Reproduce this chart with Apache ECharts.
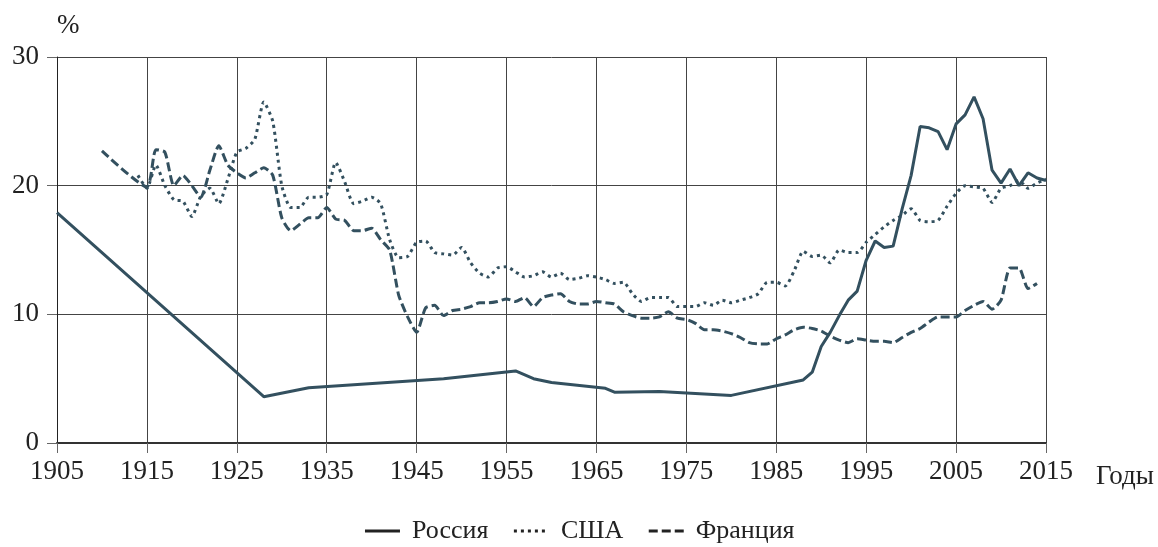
<!DOCTYPE html>
<html>
<head>
<meta charset="utf-8">
<script src="https://cdn.jsdelivr.net/npm/echarts@6/dist/echarts.min.js"></script>
<style>
  html, body { margin: 0; padding: 0; background: #fff; }
  #chart { width: 1158px; height: 547px; }
</style>
</head>
<body>
<div id="chart"></div>
<script>
// tick labels
const yearTicks = ['1905', '1915', '1925', '1935', '1945', '1955', '1965', '1975', '1985', '1995', '2005', '2015']
const seriesNames = ['Россия', 'США', 'Франция']

// Россия
const russiaYears = [1905, 1928, 1933, 1948, 1956, 1958, 1960, 1966, 1967, 1972, 1980, 1988, 1989, 1990, 1991, 1992,
  1993, 1994, 1995, 1996, 1997, 1998, 1999, 2000, 2001, 2002, 2003, 2004, 2005, 2006, 2007, 2008, 2009, 2010,
  2011, 2012, 2013, 2014, 2015]
const russiaValues = [17.9, 3.6, 4.3, 5.0, 5.6, 5.0, 4.7, 4.25, 3.95, 4.0, 3.7, 4.9, 5.5, 7.5, 8.6, 9.9,
  11.1, 11.8, 14.2, 15.7, 15.2, 15.3, 18.2, 20.8, 24.6, 24.5, 24.2, 22.8, 24.8, 25.5, 26.9, 25.2, 21.2, 20.2,
  21.3, 20.0, 21.0, 20.6, 20.4]

// США
const usaYears = [1914, 1915, 1916, 1917, 1918, 1919, 1920, 1921, 1922, 1923, 1924, 1925, 1926, 1927, 1928, 1929,
  1930, 1931, 1932, 1933, 1934, 1935, 1936, 1937, 1938, 1939, 1940, 1941, 1942, 1943, 1944, 1945, 1946, 1947,
  1948, 1949, 1950, 1951, 1952, 1953, 1954, 1955, 1956, 1957, 1958, 1959, 1960, 1961, 1962, 1963, 1964, 1965,
  1966, 1967, 1968, 1969, 1970, 1971, 1972, 1973, 1974, 1975, 1976, 1977, 1978, 1979, 1980, 1981, 1982, 1983,
  1984, 1985, 1986, 1987, 1988, 1989, 1990, 1991, 1992, 1993, 1994, 1995, 1996, 1997, 1998, 1999, 2000, 2001,
  2002, 2003, 2004, 2005, 2006, 2007, 2008, 2009, 2010, 2011, 2012, 2013, 2014, 2015]
const usaValues = [20.8, 19.8, 21.6, 20.0, 18.9, 18.8, 17.6, 19.2, 19.8, 18.6, 20.5, 22.6, 22.9, 23.6, 26.5, 25.0,
  20.0, 18.3, 18.3, 19.1, 19.1, 19.3, 21.8, 20.3, 18.6, 18.8, 19.1, 18.6, 15.8, 14.4, 14.5, 15.6, 15.7, 14.8,
  14.7, 14.6, 15.2, 14.0, 13.2, 12.9, 13.6, 13.7, 13.3, 12.9, 13.0, 13.3, 12.9, 13.2, 12.7, 12.8, 13.0, 12.9,
  12.7, 12.4, 12.5, 11.6, 11.0, 11.3, 11.3, 11.3, 10.6, 10.6, 10.6, 10.9, 10.7, 11.1, 10.9, 11.1, 11.3, 11.6,
  12.5, 12.5, 12.2, 13.4, 14.9, 14.5, 14.6, 14.0, 15.0, 14.8, 14.8, 15.6, 16.2, 16.8, 17.3, 17.7, 18.2, 17.3,
  17.2, 17.3, 18.4, 19.4, 20.0, 19.9, 19.8, 18.7, 19.8, 20.0, 20.4, 19.8, 20.2, 20.5]

// Франция
const franceYears = [1910, 1915, 1916, 1917, 1918, 1919, 1920, 1921, 1922, 1923, 1924, 1925, 1926, 1927, 1928, 1929,
  1930, 1931, 1932, 1933, 1934, 1935, 1936, 1937, 1938, 1939, 1940, 1941, 1942, 1943, 1944, 1945, 1946, 1947,
  1948, 1949, 1950, 1951, 1952, 1953, 1954, 1955, 1956, 1957, 1958, 1959, 1960, 1961, 1962, 1963, 1964, 1965,
  1966, 1967, 1968, 1969, 1970, 1971, 1972, 1973, 1974, 1975, 1976, 1977, 1978, 1979, 1980, 1981, 1982, 1983,
  1984, 1985, 1986, 1987, 1988, 1989, 1990, 1991, 1992, 1993, 1994, 1995, 1996, 1997, 1998, 1999, 2000, 2001,
  2002, 2003, 2004, 2005, 2006, 2007, 2008, 2009, 2010, 2011, 2012, 2013, 2014]
const franceValues = [22.7, 19.9, 22.8, 22.6, 20.0, 20.8, 20.0, 19.1, 21.2, 23.1, 21.6, 21.0, 20.6, 21.0, 21.4, 20.8,
  17.5, 16.5, 17.0, 17.5, 17.5, 18.3, 17.4, 17.3, 16.5, 16.5, 16.7, 15.8, 15.0, 11.5, 9.8, 8.6, 10.5, 10.7,
  9.9, 10.3, 10.4, 10.6, 10.9, 10.9, 11.0, 11.2, 11.0, 11.3, 10.6, 11.3, 11.5, 11.6, 11.0, 10.8, 10.8, 11.0,
  10.9, 10.8, 10.2, 9.9, 9.7, 9.7, 9.8, 10.2, 9.7, 9.6, 9.3, 8.8, 8.8, 8.7, 8.5, 8.2, 7.8, 7.7,
  7.7, 8.1, 8.4, 8.8, 9.0, 8.9, 8.7, 8.3, 8.0, 7.8, 8.1, 8.0, 7.9, 7.9, 7.8, 8.2, 8.6, 8.9,
  9.4, 9.8, 9.8, 9.8, 10.3, 10.7, 11.0, 10.4, 11.1, 13.6, 13.6, 12.0, 12.4]

const lineColor = '#33505f'
const font = 'Liberation Serif'

const pairs = (xs, ys) => xs.map((x, i) => [x, ys[i]])

const chart = echarts.init(document.getElementById('chart'))

const makeSeries = (name, data, type, smooth) => ({
  name,
  type: 'line',
  data,
  showSymbol: false,
  symbol: 'none',
  smooth,
  lineStyle: { color: lineColor, width: 3, type },
  itemStyle: { color: lineColor }
})

chart.setOption({
  animation: false,
  backgroundColor: '#fff',
  textStyle: { fontFamily: font },
  grid: { left: 57, right: 112, top: 57, bottom: 104 },
  legend: {
    bottom: -2,
    left: 'center',
    itemWidth: 35,
    itemHeight: 14,
    itemGap: 24,
    data: seriesNames,
    itemStyle: { color: 'rgba(0,0,0,0)', borderColor: 'rgba(0,0,0,0)', borderWidth: 0 },
    lineStyle: { color: '#222', width: 3 },
    textStyle: { fontFamily: font, fontSize: 26, color: '#222', padding: [0, 0, 0, 7] }
  },
  xAxis: {
    type: 'value',
    min: 1905,
    max: 2015,
    interval: 10,
    name: 'Годы',
    nameLocation: 'end',
    nameGap: 50,
    nameTextStyle: { fontFamily: font, fontSize: 27, color: '#222', verticalAlign: 'top', padding: [20, 0, 0, 0] },
    axisLine: { lineStyle: { color: '#333', width: 2 } },
    axisTick: { show: true, length: 10, lineStyle: { color: '#666' } },
    axisLabel: {
      fontFamily: font, fontSize: 27, color: '#222', margin: 15,
      formatter: (v) => yearTicks.includes(String(v)) ? String(v) : ''
    },
    splitLine: { show: true, lineStyle: { color: '#444', width: 1 } }
  },
  yAxis: {
    type: 'value',
    min: 0,
    max: 30,
    interval: 10,
    name: '%',
    nameLocation: 'end',
    nameGap: 18,
    nameTextStyle: { fontFamily: font, fontSize: 27, color: '#222', align: 'left' },
    axisLine: { show: true, lineStyle: { color: '#222', width: 1 } },
    axisTick: { show: true, length: 10, lineStyle: { color: '#666' } },
    axisLabel: { fontFamily: font, fontSize: 27, color: '#222', margin: 18 },
    splitLine: { show: true, lineStyle: { color: '#444', width: 1 } }
  },
  series: [
    makeSeries(seriesNames[0], pairs(russiaYears, russiaValues), 'solid', false),
    makeSeries(seriesNames[1], pairs(usaYears, usaValues), [3, 4], 0.2),
    makeSeries(seriesNames[2], pairs(franceYears, franceValues), [9, 4], 0.2)
  ]
})
</script>
</body>
</html>
